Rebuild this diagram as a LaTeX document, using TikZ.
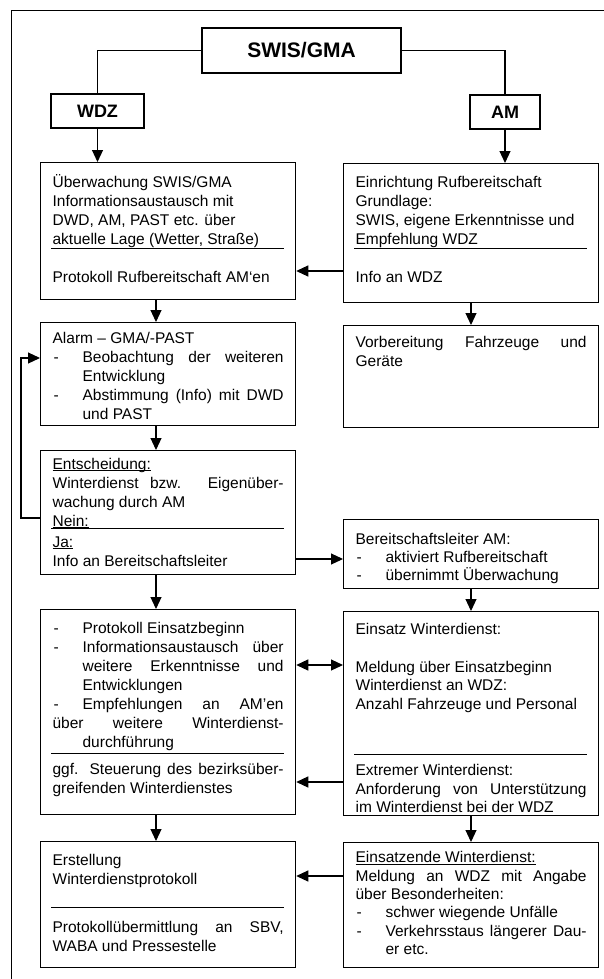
\documentclass[tikz,border=0pt]{standalone}
\usepackage{fontspec}
\setmainfont{Liberation Sans}
\usetikzlibrary{arrows.meta}
\usetikzlibrary{calc}
\tikzstyle{HeadNode}=[rectangle, draw=black, line width=1.25pt, inner sep=0pt, font=\fontsize{18}{20}\selectfont\bfseries]
\tikzstyle{FlowBox}=[rectangle, draw=black, line width=1.25pt, inner xsep=12pt, inner ysep=0pt]
\tikzstyle{LinkEdge}=[line width=1.15pt]
\tikzstyle{FlowEdge}=[->, line width=1.15pt]
\tikzstyle{BothEdge}=[<->, line width=1.15pt]
\tikzstyle{BoxRule}=[line width=1pt]
\tikzstyle{FrameLine}=[line width=1pt]
\tikzset{>={Triangle[length=12pt,width=11pt]}}

\newlength{\ItemIndent}\setlength{\ItemIndent}{30pt}
\newcommand{\JustLine}[1]{\makebox[\linewidth][s]{#1}}
\newcommand{\ItemLine}[1]{\makebox[\ItemIndent][l]{\hspace{1pt}-}#1}
\newcommand{\ItemJust}[1]{\makebox[\ItemIndent][l]{\hspace{1pt}-}\makebox[\dimexpr\linewidth-\ItemIndent\relax][s]{#1}}
\newcommand{\ContLine}[1]{\hspace*{\ItemIndent}#1}
\newcommand{\ContJust}[1]{\hspace*{\ItemIndent}\makebox[\dimexpr\linewidth-\ItemIndent\relax][s]{#1}}
\newcommand{\ULine}[1]{\setbox0\hbox{#1}\rlap{\rule[-1.8pt]{\wd0}{0.7pt}}\box0}
\newcommand{\BoxText}[4]{\parbox[c][#1][t]{231pt}{\fontsize{15.5}{#3}\selectfont\vspace*{#2}\strut#4}}

\begin{document}
\begin{tikzpicture}[x=1pt, y=-1pt]
\useasboundingbox (0,0) rectangle (604,979);
\draw[FrameLine] (11,979) -- (11,11) -- (604,11);

\node[HeadNode, minimum width=199pt, minimum height=45pt, font=\fontsize{21}{24}\selectfont\bfseries](SWIS) at (301.5,50.5) {SWIS/GMA};
\node[HeadNode, minimum width=93pt, minimum height=34pt](WDZ) at (97.5,111) {WDZ};
\node[HeadNode, minimum width=70pt, minimum height=34pt](AM) at (505,112) {AM};

\node[FlowBox, anchor=north west](Ueberw) at (40,162) {\BoxText{137pt}{11.7pt}{19pt}{%
Überwachung SWIS/GMA\\
Informationsaustausch mit\\
DWD, AM, PAST etc. über\\
aktuelle Lage (Wetter, Straße)\\[19pt]
Protokoll Rufbereitschaft AM‘en}};
\node[FlowBox, anchor=north west](Rufber) at (343,163) {\BoxText{139pt}{10.4pt}{19pt}{%
Einrichtung Rufbereitschaft\\
Grundlage:\\
SWIS, eigene Erkenntnisse und\\
Empfehlung WDZ\\[19pt]
Info an WDZ}};
\node[FlowBox, anchor=north west](Alarm) at (40,322) {\BoxText{103pt}{7.4pt}{19pt}{%
Alarm – GMA/-PAST\\
\ItemJust{Beobachtung der weiteren}\\
\ContLine{Entwicklung}\\
\ItemJust{Abstimmung (Info) mit DWD}\\
\ContLine{und PAST}}};
\node[FlowBox, anchor=north west](Vorber) at (343,325) {\BoxText{102pt}{8.4pt}{19pt}{%
\JustLine{Vorbereitung Fahrzeuge und}\\
Geräte}};
\node[FlowBox, anchor=north west](Entsch) at (40,450) {\BoxText{124pt}{5.4pt}{19pt}{%
\ULine{Entscheidung:}\\
\JustLine{Winterdienst bzw. Eigenüber-}\\
wachung durch AM\\
\ULine{Nein:}\\[2pt]
\ULine{Ja:}\\
Info an Bereitschaftsleiter}};
\node[FlowBox, anchor=north west](Bereit) at (343,519) {\BoxText{69pt}{12.4pt}{18pt}{%
Bereitschaftsleiter AM:\\
\ItemLine{aktiviert Rufbereitschaft}\\
\ItemLine{übernimmt Überwachung}}};
\node[FlowBox, anchor=north west](Steuer) at (40,609) {\BoxText{205pt}{10.4pt}{19pt}{%
\ItemLine{Protokoll Einsatzbeginn}\\
\ItemJust{Informationsaustausch über}\\
\ContJust{weitere Erkenntnisse und}\\
\ContLine{Entwicklungen}\\
\ItemJust{Empfehlungen an AM’en}\\
\JustLine{über weitere Winterdienst-}\\
\ContLine{durchführung}\\[8pt]
\JustLine{ggf. Steuerung des bezirksüber-}\\
greifenden Winterdienstes}};
\node[FlowBox, anchor=north west](Einsatz) at (343,611) {\BoxText{204pt}{9.8pt}{18.8pt}{%
Einsatz Winterdienst:\\[18.8pt]
Meldung über Einsatzbeginn\\
Winterdienst an WDZ:\\
Anzahl Fahrzeuge und Personal\\[46.7pt]
Extremer Winterdienst:\\
\JustLine{Anforderung von Unterstützung}\\
im Winterdienst bei der WDZ}};
\node[FlowBox, anchor=north west](Erstell) at (40,841) {\BoxText{126pt}{10.7pt}{19pt}{%
Erstellung\\
Winterdienstprotokoll\\[29pt]
\JustLine{Protokollübermittlung an SBV,}\\
WABA und Pressestelle}};
\node[FlowBox, anchor=north west](Ende) at (343,842) {\BoxText{125pt}{7.1pt}{18.4pt}{%
\ULine{Einsatzende Winterdienst:}\\
\JustLine{Meldung an WDZ mit Angabe}\\
über Besonderheiten:\\
\ItemLine{schwer wiegende Unfälle}\\
\ItemJust{Verkehrsstaus längerer Dau-}\\
\ContLine{er etc.}}};

\draw[BoxRule] ($(Ueberw.north west)+(11,86)$) -- ($(Ueberw.north east)+(-12,86)$);
\draw[BoxRule] ($(Rufber.north west)+(11,85.5)$) -- ($(Rufber.north east)+(-12,85.5)$);
\draw[BoxRule] ($(Entsch.north west)+(11,78.5)$) -- ($(Entsch.north east)+(-12,78.5)$);
\draw[BoxRule] ($(Steuer.north west)+(11,144)$) -- ($(Steuer.north east)+(-12,144)$);
\draw[BoxRule] ($(Einsatz.north west)+(11,143.7)$) -- ($(Einsatz.north east)+(-12,143.7)$);
\draw[BoxRule] ($(Erstell.north west)+(11,66)$) -- ($(Erstell.north east)+(-12,66)$);

\coordinate (LeftCol) at (156,0);
\coordinate (RightCol) at (471,0);
\coordinate (RowA) at (0,271);
\coordinate (RowB) at (0,559);
\coordinate (RowC) at (0,665);
\coordinate (RowD) at (0,782);
\coordinate (RowE) at (0,876);
\coordinate (LoopLow) at (21,518);
\coordinate (LoopHigh) at (21,358);

\draw[LinkEdge](SWIS) -| (WDZ);
\draw[LinkEdge](SWIS) -| (AM);
\draw[FlowEdge](WDZ) -- (WDZ |- Ueberw.north);
\draw[FlowEdge](AM) -- (AM |- Rufber.north);
\draw[FlowEdge](Rufber.west |- RowA) -- (Ueberw.east |- RowA);
\draw[FlowEdge](Ueberw.south -| LeftCol) -- (Alarm.north -| LeftCol);
\draw[FlowEdge](Rufber.south -| RightCol) -- (Vorber.north -| RightCol);
\draw[FlowEdge](Alarm.south -| LeftCol) -- (Entsch.north -| LeftCol);
\draw[FlowEdge](Entsch.west |- LoopLow) -- (LoopLow) -- (LoopHigh) -- (Alarm.west |- LoopHigh);
\draw[FlowEdge](Entsch.east |- RowB) -- (Bereit.west |- RowB);
\draw[FlowEdge](Entsch.south -| LeftCol) -- (Steuer.north -| LeftCol);
\draw[FlowEdge](Bereit.south -| RightCol) -- (Einsatz.north -| RightCol);
\draw[BothEdge](Steuer.east |- RowC) -- (Einsatz.west |- RowC);
\draw[FlowEdge](Einsatz.west |- RowD) -- (Steuer.east |- RowD);
\draw[FlowEdge](Steuer.south -| LeftCol) -- (Erstell.north -| LeftCol);
\draw[FlowEdge](Einsatz.south -| RightCol) -- (Ende.north -| RightCol);
\draw[FlowEdge](Ende.west |- RowE) -- (Erstell.east |- RowE);
\end{tikzpicture}
\end{document}
